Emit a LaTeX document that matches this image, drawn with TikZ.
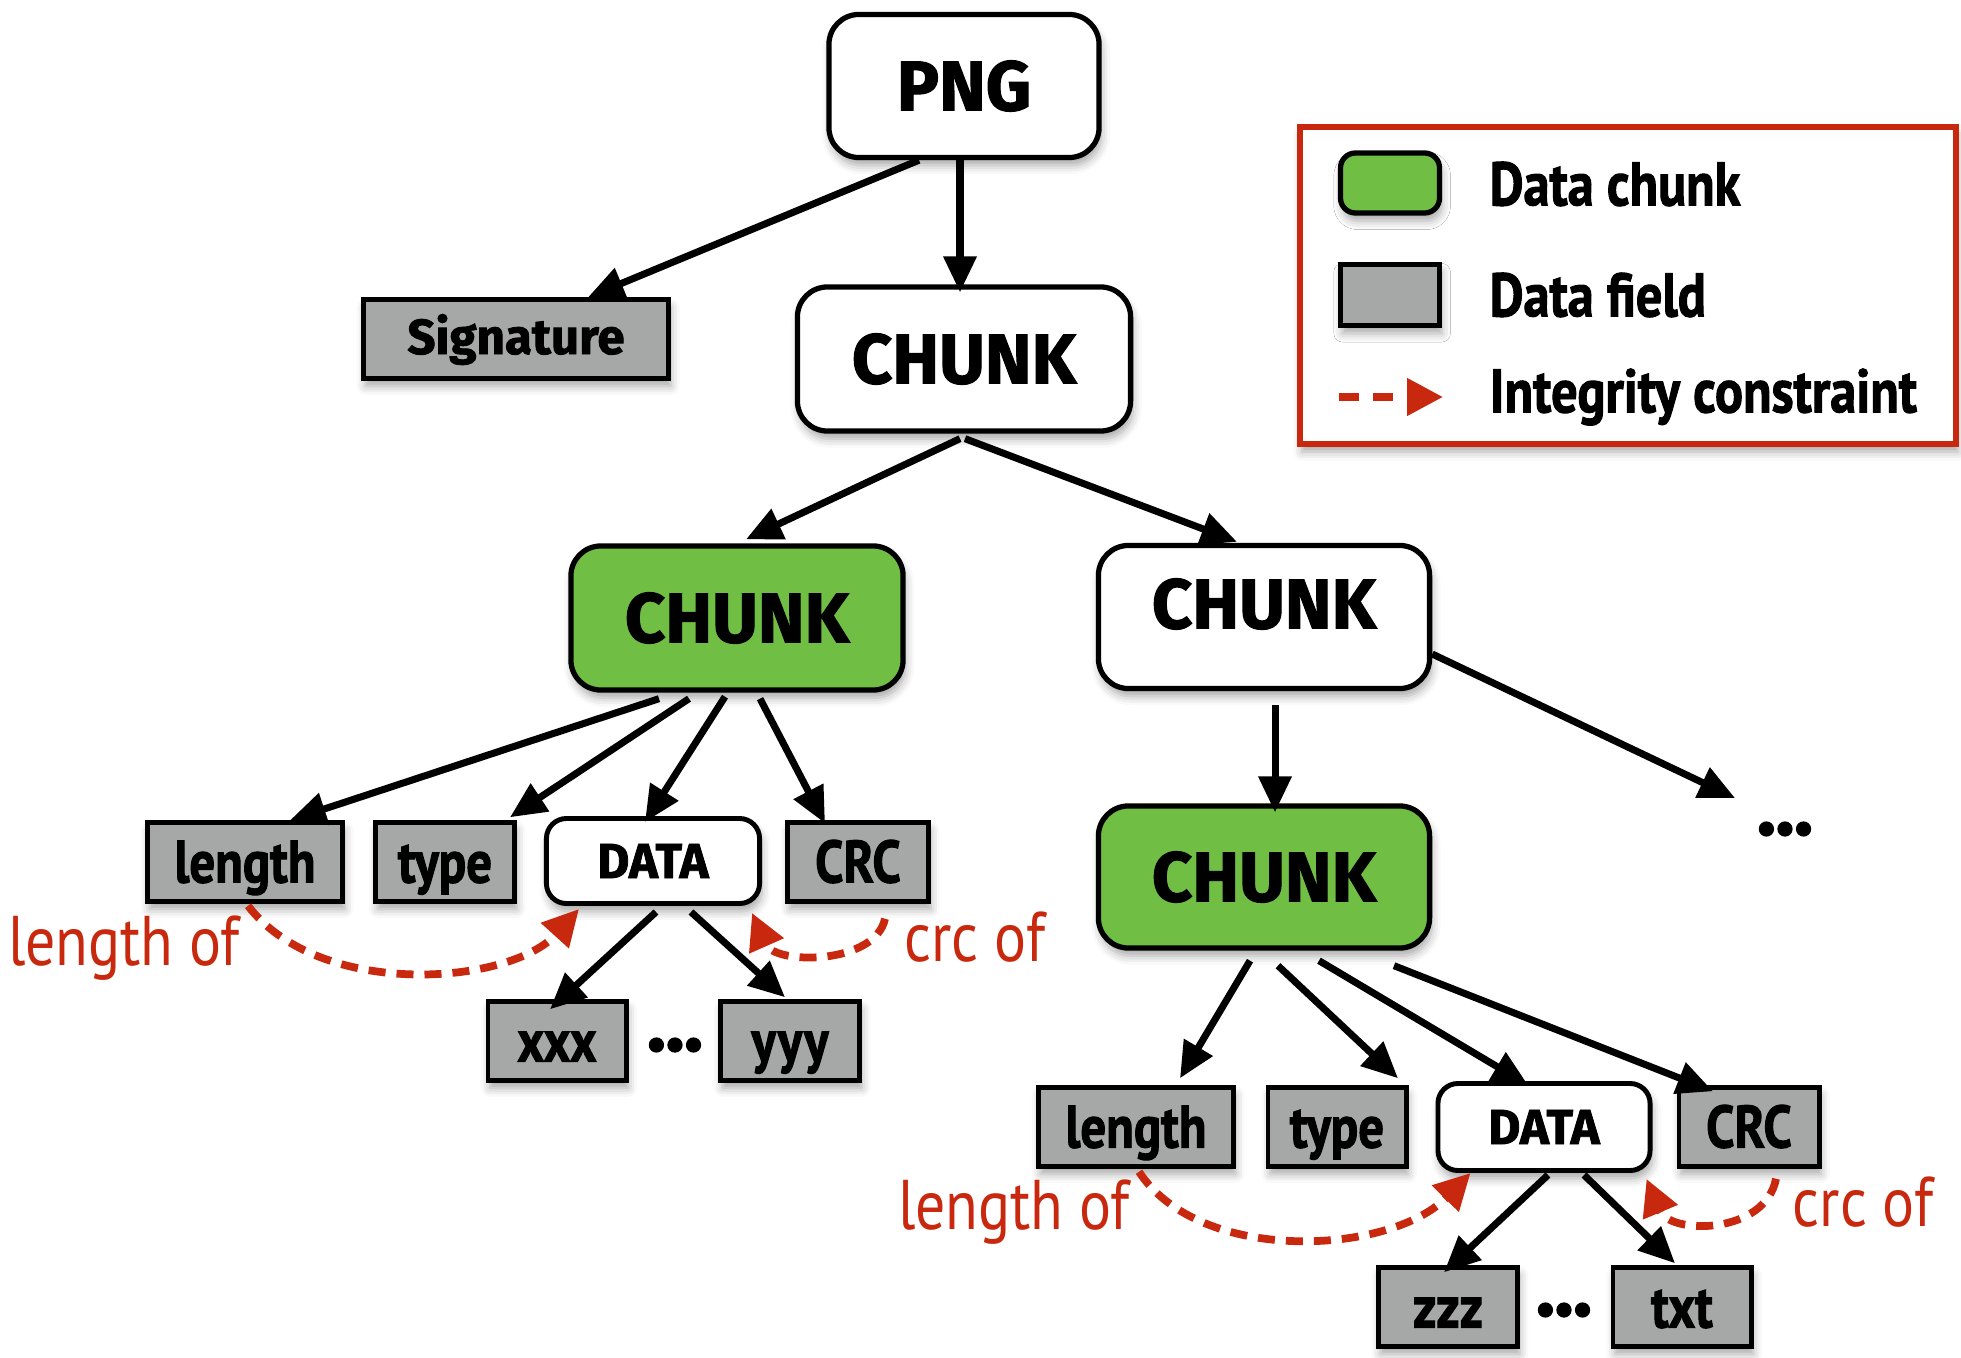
\documentclass[tikz,border=0pt]{standalone}
\usepackage{fontspec}
\setmainfont{PT Sans}
\newfontfamily\heavyfont[BoldFeatures={FakeBold=1.6}]{Fira Sans}
\newfontfamily\condfont[FakeStretch=0.85,BoldFeatures={FakeBold=1.6}]{PT Sans}
\usetikzlibrary{arrows.meta,calc,shadows.blur}

\definecolor{chunkgreen}{HTML}{70BF44}
\definecolor{fieldgray}{HTML}{A5A8A6}
\definecolor{constraintred}{HTML}{C8280E}

\tikzset{
  soft/.style={blur shadow={shadow xshift=0.6pt,shadow yshift=-2.2pt,shadow opacity=35,shadow blur radius=2.5pt}},
  chunkbox/.style={draw=black,line width=1.5pt,rounded corners=0.3cm,fill=white,soft,inner sep=0pt,
    font=\heavyfont\bfseries\fontsize{20}{24}\selectfont},
  greenchunk/.style={chunkbox,fill=chunkgreen},
  databox/.style={draw=black,line width=1.4pt,rounded corners=0.2cm,fill=white,soft,inner sep=0pt,
    minimum width=2.13cm,minimum height=0.85cm,font=\heavyfont\bfseries\fontsize{14}{17}\selectfont},
  fieldbox/.style={draw=black,line width=1.4pt,fill=fieldgray,soft,inner sep=0pt,
    text height=0.41cm,text depth=0cm,
    minimum height=0.785cm,font=\condfont\bfseries\fontsize{17}{20}\selectfont},
  conn/.style={draw=black,line width=2pt,-{Triangle[length=0.36cm,width=0.32cm]}},
  constraint/.style={draw=constraintred,line width=2.2pt,dash pattern=on 0.17cm off 0.11cm,
    -{Triangle[length=0.36cm,width=0.36cm]}},
  redlabel/.style={text=constraintred,inner sep=0pt,font=\condfont\fontsize{20}{24}\selectfont},
  dotsmark/.style={inner sep=0pt,font=\heavyfont\bfseries\fontsize{22}{24}\selectfont},
  legendtext/.style={anchor=west,inner sep=0pt,font=\condfont\bfseries\fontsize{17.5}{20}\selectfont},
}

\begin{document}
\begin{tikzpicture}[x=0.01cm,y=-0.01cm]
\useasboundingbox (0,0) rectangle (1961,1358);

% ---- tree of chunks ----
\node[chunkbox,minimum width=2.70cm,minimum height=1.43cm] (png) at (964,86) {PNG};
\node[fieldbox,minimum width=3.05cm,text height=0.36cm,text depth=0.06cm,
      font=\heavyfont\bfseries\fontsize{14}{17}\selectfont] (sig) at (516,339) {Signature};
\node[chunkbox,minimum width=3.33cm,minimum height=1.44cm] (chunk0) at (964,359) {CHUNK};
\node[greenchunk,minimum width=3.32cm,minimum height=1.44cm] (chunkA) at (737,618) {CHUNK};
\node[chunkbox,minimum width=3.31cm,minimum height=1.43cm,
      label={[yshift=0.13cm,font=\heavyfont\bfseries\fontsize{20}{24}\selectfont]center:CHUNK}] (chunkB) at (1264,617) {};
\node[greenchunk,minimum width=3.31cm,minimum height=1.42cm] (chunkC) at (1264,877) {CHUNK};
\node[dotsmark] (dotsR) at (1785,829) {...};

% fields of the first data chunk
\node[fieldbox,minimum width=1.95cm] (lenA) at (245,862) {length};
\node[fieldbox,minimum width=1.39cm] (typeA) at (445,862) {type};
\node[databox] (dataA) at (653,861) {DATA};
\node[fieldbox,minimum width=1.41cm] (crcA) at (858,862) {CRC};
\node[fieldbox,minimum width=1.38cm] (xxx) at (557,1041) {xxx};
\node[fieldbox,minimum width=1.39cm] (yyy) at (790,1041) {yyy};
\node[dotsmark] (dotsA) at (675,1045) {...};

% fields of the second data chunk
\node[fieldbox,minimum width=1.95cm] (lenB) at (1136,1127) {length};
\node[fieldbox,minimum width=1.38cm] (typeB) at (1337,1127) {type};
\node[databox,minimum width=2.12cm,minimum height=0.87cm] (dataB) at (1544,1127) {DATA};
\node[fieldbox,minimum width=1.40cm] (crcB) at (1749,1127) {CRC};
\node[fieldbox,minimum width=1.39cm] (zzz) at (1448,1307) {zzz};
\node[fieldbox,minimum width=1.38cm] (txt) at (1682,1307) {txt};
\node[dotsmark] (dotsB) at (1564,1310) {...};

% ---- structural connectors ----
\draw[conn] ($(png.south)+(-45,0)$) -- ($(sig.north)+(72,0)$);
\draw[conn] ($(png.south)+(-4,0)$) -- ($(chunk0.north)+(-4,8)$);
\draw[conn] ($(chunk0.south)+(-4,5)$) -- ($(chunkA.north)+(9,-4)$);
\draw[conn] ($(chunk0.south)+(1,5)$) -- ($(chunkB.north)+(-27,-1)$);

\draw[conn] ($(chunkA.south)+(-78,6)$) -- ($(lenA.north)+(45,0)$);
\draw[conn] ($(chunkA.south)+(-48,6)$) -- ($(typeA.north)+(65,-3)$);
\draw[conn] ($(chunkA.south)+(-12,4)$) -- ($(dataA.north)+(-8,6)$);
\draw[conn] ($(chunkA.south)+(23,6)$) -- ($(crcA.north)+(-33,3)$);

\draw[conn] ($(chunkB.south)+(11,14)$) -- ($(chunkC.north)+(11,9)$);
\draw[conn] ($(chunkB.east)+(0,37)$) -- ($(dotsR.center)+(-50,-31)$);

\draw[conn] ($(chunkC.south)+(-14,10)$) -- ($(lenB.north)+(44,-7)$);
\draw[conn] ($(chunkC.south)+(14,15)$) -- ($(typeB.north)+(61,-7)$);
\draw[conn] ($(chunkC.south)+(55,10)$) -- ($(dataB.north)+(-16,4)$);
\draw[conn] ($(chunkC.south)+(130,15)$) -- ($(crcB.north)+(-36,6)$);

\draw[conn] ($(dataA.south)+(3,6)$) -- ($(xxx.north)+(-7,10)$);
\draw[conn] ($(dataA.south)+(38,6)$) -- ($(yyy.north)+(-5,-2)$);
\draw[conn] ($(dataB.south)+(4,2)$) -- ($(zzz.north)+(-4,7)$);
\draw[conn] ($(dataB.south)+(40,2)$) -- ($(txt.north)+(-7,-2)$);

% ---- integrity constraints ----
\draw[constraint] ($(lenA.south)+(3,2)$) .. controls (320,1000) and (510,985) .. ($(dataA.south west)+(35,3)$);
\draw[constraint] ($(crcA.south)+(27,15)$) .. controls (875,965) and (775,965) .. ($(dataA.south east)+(-10,7)$);
\draw[constraint] ($(lenB.south)+(3,3)$) .. controls (1200,1265) and (1390,1255) .. ($(dataB.south west)+(35,0)$);
\draw[constraint] ($(crcB.south)+(27,10)$) .. controls (1765,1235) and (1670,1235) .. ($(dataB.south east)+(-6,6)$);

\node[redlabel] (lenofA) at (124,948) {length of};
\node[redlabel] (crcofA) at (975,937) {crc of};
\node[redlabel] (lenofB) at (1014,1212) {length of};
\node[redlabel] (crcofB) at (1863,1202) {crc of};

% ---- legend ----
\draw[constraintred,line width=1.9pt,fill=white,soft] (1300,127) rectangle (1956,444);
\node[draw=black,line width=1.5pt,fill=chunkgreen,rounded corners=0.15cm,soft,
      minimum width=0.99cm,minimum height=0.6cm,inner sep=0pt] (keychunk) at (1390,183) {};
\node[draw=black,line width=1.5pt,fill=fieldgray,soft,
      minimum width=0.99cm,minimum height=0.61cm,inner sep=0pt] (keyfield) at (1390,295) {};
\coordinate (keyfrom) at (1339,397);
\coordinate (keyto) at (1443,397);
\draw[constraint,dash pattern=on 0.2cm off 0.14cm] (keyfrom) -- (keyto);
\node[legendtext] (keychunktext) at (1489,184) {Data chunk};
\node[legendtext] (keyfieldtext) at (1489,295) {Data field};
\node[legendtext] (keyconstrtext) at (1489,397) {Integrity constraint};
\end{tikzpicture}
\end{document}
